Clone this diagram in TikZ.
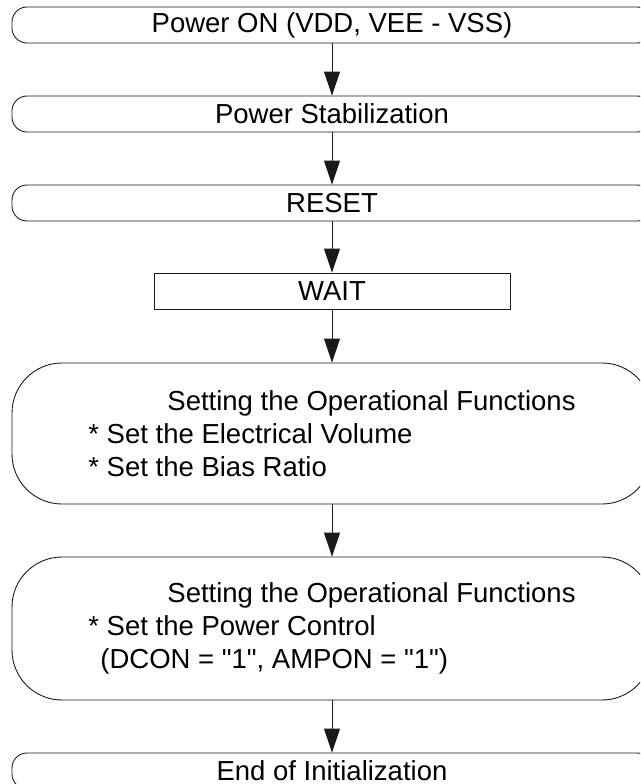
\documentclass[tikz,border=0pt]{standalone}
\usepackage{fontspec}
\setmainfont{Liberation Sans}
\usetikzlibrary{arrows.meta,positioning}
\definecolor{InkDark}{HTML}{1A1A1A}
\tikzset{
  rbox/.style={rectangle, rounded corners=15pt, draw=InkDark, line width=0.9pt,
               minimum width=640pt, minimum height=36pt, inner sep=0pt},
  sqbox/.style={rectangle, draw=InkDark, line width=0.9pt,
               minimum width=356pt, minimum height=36pt, inner sep=0pt},
  bigbox/.style={rectangle, rounded corners=50pt, draw=InkDark, line width=0.9pt,
               minimum width=640pt, inner sep=0pt, align=left},
  flow/.style={line width=0.9pt, draw=InkDark, -{Triangle[length=24pt,width=16pt]}},
  txt/.style={font=\fontsize{27.5pt}{33pt}\selectfont},
}
\begin{document}
\begin{tikzpicture}[x=1pt, y=-1pt]
\useasboundingbox (0,0) rectangle (640,784);
\clip (0,0) rectangle (640,784);
\node[rbox, txt] (pwron) at (332,25) {Power ON (VDD, VEE - VSS)};
\node[rbox, txt] (stab) at (332,114) {Power Stabilization};
\node[rbox, txt] (reset) at (332,203) {RESET};
\node[sqbox, txt] (wait) at (332,291) {WAIT};
\node[bigbox, txt, minimum height=141pt] (opfunc) at (332,433.5)
  {\hspace*{79pt}Setting the Operational Functions\\
   * Set the Electrical Volume\\
   * Set the Bias Ratio};
\node[bigbox, txt, minimum height=143pt] (pwrctl) at (332,628.5)
  {\hspace*{79pt}Setting the Operational Functions\\
   * Set the Power Control\\
   \hspace*{12pt}(DCON = \textquotedbl 1\textquotedbl, AMPON = \textquotedbl 1\textquotedbl)};
\node[rbox, txt] (endinit) at (332,771) {End of Initialization};
% connectors
\draw[flow] (pwron) -- (stab);
\draw[flow] (stab) -- (reset);
\draw[flow] (reset) -- (wait);
\draw[flow] (wait) -- (opfunc);
\draw[flow] (opfunc) -- (pwrctl);
\draw[flow] (pwrctl) -- (endinit);
\end{tikzpicture}
\end{document}
